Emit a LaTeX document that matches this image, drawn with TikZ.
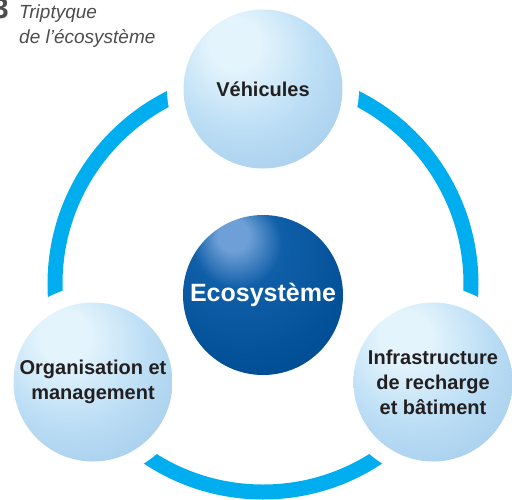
\documentclass[tikz,border=0pt]{standalone}
\usepackage{fontspec}
\setmainfont{Liberation Sans}
\usetikzlibrary{calc}
\definecolor{ring-blue}{HTML}{00AEEF}
\definecolor{title-gray}{HTML}{4D4D4D}
\definecolor{label-black}{HTML}{231F20}
\definecolor{ball-light}{HTML}{E3F4FC}
\definecolor{ball-mid}{HTML}{BCDEF5}
\definecolor{ball-edge}{HTML}{9EC7EA}
\definecolor{eco-light}{HTML}{6E9FD6}
\definecolor{eco-mid}{HTML}{0F5EA8}
\definecolor{eco-body}{HTML}{004F95}
\definecolor{eco-edge}{HTML}{003263}
\pgfdeclareradialshading{lightball}{\pgfpoint{-10bp}{16bp}}{color(0bp)=(ball-light); color(8bp)=(ball-light); color(24bp)=(ball-mid); color(45bp)=(ball-edge); color(75bp)=(ball-edge)}
\pgfdeclareradialshading{darkball}{\pgfpoint{-10bp}{20bp}}{color(0bp)=(eco-light); color(5bp)=(eco-light); color(14bp)=(eco-mid); color(36bp)=(eco-body); color(72bp)=(eco-edge)}
\tikzstyle{sphere}=[circle,inner sep=0pt,minimum size=159pt,shading=lightball,text=label-black,align=center,font=\fontsize{20}{25}\selectfont\bfseries]
\tikzstyle{core}=[sphere,minimum size=160pt,shading=darkball,text=white,font=\fontsize{25}{30}\selectfont\bfseries]
\tikzstyle{gap}=[fill=white]
\newcommand{\ringradius}{208pt}
\newcommand{\gapradius}{96pt}

\begin{document}
\begin{tikzpicture}[x=1pt,y=1pt]
	\useasboundingbox (0,0) rectangle (512,-499);
	% ring first, the spheres cut it
	\coordinate (hub) at (263,-284);
	\draw[ring-blue,line width=15pt] (hub) circle (\ringradius);
	\foreach \p in {(263,-89),(93,-382),(433,-382)}
		\fill[gap] \p circle (\gapradius);
	\node[sphere] (veh) at (263,-89) {Véhicules};
	\node[sphere] (org) at (93,-382) {Organisation et\\management};
	\node[sphere] (infra) at (433,-382) {Infrastructure\\de recharge\\et bâtiment};
	\node[core] (eco) at (263,-295) {Ecosystème};
	% caption
	\node[anchor=base east,inner sep=0pt,text=title-gray,font=\fontsize{29}{29}\selectfont\bfseries] (num) at (9,-18) {3};
	\node[anchor=base west,inner sep=0pt,align=left,text=title-gray,font=\fontsize{19}{25}\selectfont\itshape] (title) at (19,-43) {Triptyque\\de l’écosystème};
\end{tikzpicture}
\end{document}
